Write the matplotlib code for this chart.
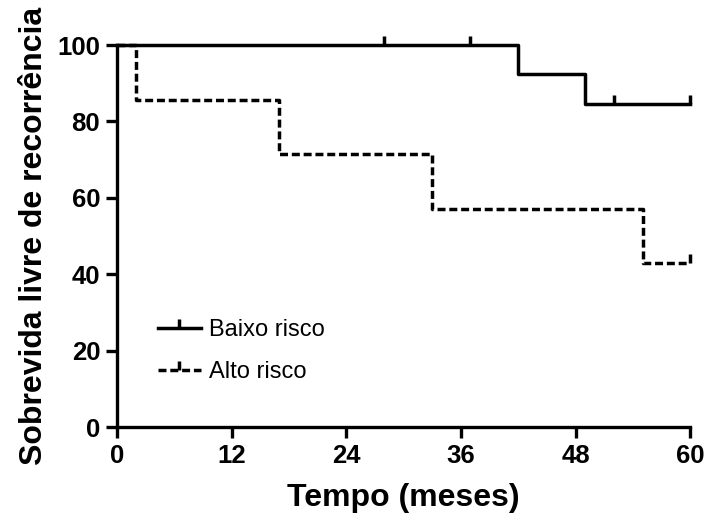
import matplotlib
matplotlib.use("Agg")
import matplotlib.pyplot as plt

# Kaplan-Meier steps
baixo_t = [0, 42, 49, 60]
baixo_s = [100, 92.3, 84.6, 84.6]
baixo_cens_t = [28, 37, 52, 60]
baixo_cens_s = [100, 100, 84.6, 84.6]

alto_t = [0, 2, 17, 33, 55, 60]
alto_s = [100, 85.7, 71.4, 57.1, 42.9, 42.9]
alto_cens_t = [60]
alto_cens_s = [42.9]

x_ticks = [0, 12, 24, 36, 48, 60]
y_ticks = [0, 20, 40, 60, 80, 100]

plt.rcParams['font.family'] = ['Liberation Sans', 'DejaVu Sans']

fig = plt.figure(figsize=(7.08, 5.21), dpi=100)
ax = fig.add_axes([0.165, 0.1804, 0.81, 0.7332])

lw = 2.5
dash = (0, (2.3, 1.1))
ax.step(baixo_t, baixo_s, where='post', color='black', lw=lw, clip_on=False)
ax.plot(baixo_cens_t, baixo_cens_s, ls='none', marker=2, ms=6.5, mew=lw,
        color='black', clip_on=False)
ax.step(alto_t, alto_s, where='post', color='black', lw=lw, ls=dash, clip_on=False)
ax.plot(alto_cens_t, alto_cens_s, ls='none', marker=2, ms=6.5, mew=lw,
        color='black', clip_on=False)

# legend handles: line with a censor tick in the middle
h1, = ax.plot([], [], color='black', lw=lw, marker=2, ms=6.5, mew=lw)
h2, = ax.plot([], [], color='black', lw=lw, ls=dash, marker=2, ms=6.5, mew=lw)
ax.legend([h1, h2], ['Baixo risco', 'Alto risco'], loc='lower left',
          bbox_to_anchor=(0.035, 0.06), frameon=False, fontsize=17,
          handlelength=1.8, handletextpad=0.35, numpoints=1, labelspacing=0.85)

ax.set_xlim(0, 60)
ax.set_ylim(0, 100)
ax.set_xticks(x_ticks)
ax.set_yticks(y_ticks)
for s in ['top', 'right']:
    ax.spines[s].set_visible(False)
for s in ['left', 'bottom']:
    ax.spines[s].set_linewidth(2.4)
ax.tick_params(axis='both', direction='out', length=8, width=2.4, pad=4)
for lab in ax.get_xticklabels() + ax.get_yticklabels():
    lab.set_fontweight('bold')
    lab.set_fontsize(18.5)

ax.set_xlabel('Tempo (meses)', fontsize=23, fontweight='bold', labelpad=11)
ax.set_ylabel('Sobrevida livre de recorrência', fontsize=23, fontweight='bold', labelpad=6)

fig.savefig('out.png', dpi=100)
